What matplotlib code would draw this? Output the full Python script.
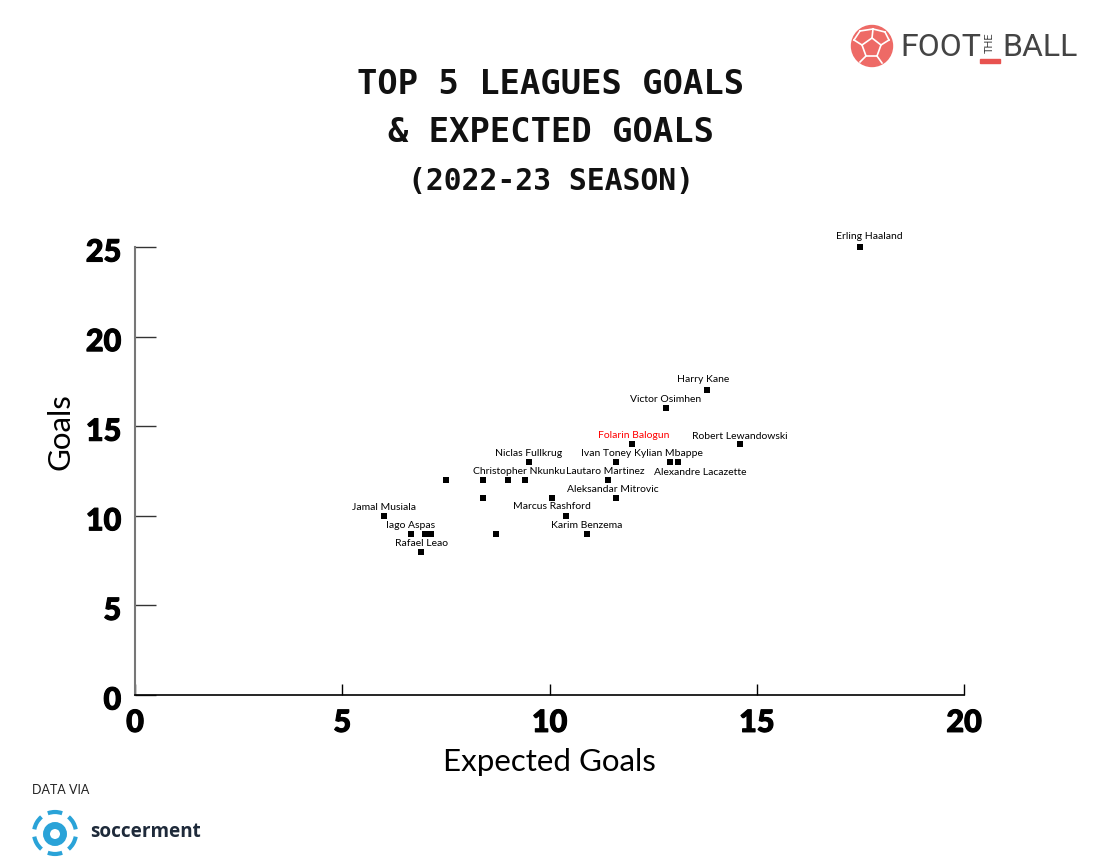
import matplotlib
matplotlib.use('Agg')
import matplotlib.pyplot as plt
import matplotlib.patheffects as pe
from matplotlib.patches import Arc, Circle, Polygon, Rectangle
from matplotlib.transforms import ScaledTranslation

players = ['Erling Haaland', 'Harry Kane', 'Victor Osimhen', 'Robert Lewandowski', 'Folarin Balogun',
           'Niclas Fullkrug', 'Ivan Toney', 'Kylian Mbappe', 'Alexandre Lacazette', 'Lautaro Martinez',
           'Christopher Nkunku', '', '', '', 'Aleksandar Mitrovic', '', '',
           'Jamal Musiala', 'Marcus Rashford', 'Iago Aspas', '', '', '', 'Karim Benzema', 'Rafael Leao']
xg = [17.5, 13.8, 12.8, 14.6, 12.0,
      9.5, 11.6, 12.9, 13.1, 11.4,
      9.4, 9.0, 8.4, 7.5, 11.6, 10.05, 8.4,
      6.0, 10.4, 6.65, 7.0, 7.15, 8.7, 10.9, 6.9]
goals = [25, 17, 16, 14, 14,
         13, 13, 13, 13, 12,
         12, 12, 12, 12, 11, 11, 11,
         10, 10, 9, 9, 9, 9, 9, 8]
# label nudges in pixels, from the default spot centred above the point
label_shift = {'Erling Haaland': (9, 1), 'Harry Kane': (-4, 1), 'Ivan Toney': (-10, -1),
               'Alexandre Lacazette': (22, -20), 'Kylian Mbappe': (-1, -1), 'Lautaro Martinez': (-2, -1),
               'Christopher Nkunku': (-6, -1), 'Aleksandar Mitrovic': (-3, -1), 'Marcus Rashford': (-14, 0),
               'Folarin Balogun': (1, -1), 'Robert Lewandowski': (0, -2), 'Niclas Fullkrug': (0, -1)}
x_ticks = [0, 5, 10, 15, 20]
y_ticks = [0, 5, 10, 15, 20, 25]

W, H = 1100, 867
fig = plt.figure(figsize=(11, 8.67), dpi=100)
ax = fig.add_axes([135 / W, 1 - 695 / H, 829 / W, 448 / H])

ax.scatter(xg, goals, marker='s', s=16, color='black', linewidths=0, zorder=3, clip_on=False)
for name, x, y in zip(players, xg, goals):
    if not name:
        continue
    dx, dy = label_shift.get(name, (0, -1))
    ax.annotate(name, (x, y), xytext=(dx * 0.72, (7 + dy) * 0.72), textcoords='offset points',
                ha='center', va='baseline', fontsize=7.5, family='Lato',
                color='red' if name == 'Folarin Balogun' else 'black')

ax.set_xlim(0, 20)
ax.set_ylim(0, 25)
ax.set_xticks(x_ticks)
ax.set_yticks(y_ticks)
ax.spines['top'].set_visible(False)
ax.spines['right'].set_visible(False)
ax.spines['left'].set_color('#777777')
ax.spines['left'].set_linewidth(1.5)
ax.spines['bottom'].set_linewidth(1.2)
ax.tick_params(axis='x', direction='in', length=8, width=1, pad=10)
ax.tick_params(axis='y', direction='in', length=15, width=1, pad=10, color='#333333')
heavy = [pe.withStroke(linewidth=0.8, foreground='black')]
for lab in ax.get_xticklabels() + ax.get_yticklabels():
    lab.set_family('Lato')
    lab.set_weight('black')
    lab.set_fontsize(22)
    lab.set_path_effects(heavy)
down = ScaledTranslation(0, -3 / 100, fig.dpi_scale_trans)
for lab in ax.get_yticklabels():
    lab.set_transform(lab.get_transform() + down)
ax.set_xlabel('Expected Goals', fontsize=22.5, family='Lato', labelpad=8)
ax.set_ylabel('Goals', fontsize=22.5, family='Lato', labelpad=8, y=0.587)

# title
for text, y, size in [('TOP 5 LEAGUES GOALS', 84, 24.3), ('& EXPECTED GOALS', 133, 24.3), ('(2022-23 SEASON)', 182, 21.4)]:
    fig.text(551 / W, 1 - y / H, text, ha='center', va='center', fontsize=size,
             family='DejaVu Sans Mono', weight='bold', color='#111111')

# overlay in pixel coordinates for the two logos
over = fig.add_axes([0, 0, 1, 1], facecolor='none')
over.set_xlim(0, W)
over.set_ylim(H, 0)
over.axis('off')

# football logo
coral = '#ee6a66'
over.add_patch(Circle((872, 46), 20.5, color=coral, zorder=2))
over.add_patch(Polygon([(872, 38), (881, 45), (877, 56), (866, 56), (862, 45)], closed=True,
                       facecolor=coral, edgecolor='white', linewidth=1.2, zorder=3))
for x0, y0, x1, y1 in [(872, 38, 873, 29), (881, 45, 889, 40), (877, 56, 882, 63), (866, 56, 860, 62),
                       (862, 45, 854, 40), (873, 29, 860, 31), (873, 29, 885, 32), (889, 40, 885, 32),
                       (854, 40, 860, 31)]:
    over.plot([x0, x1], [y0, y1], color='white', linewidth=1.2, zorder=3)
logo_font = ['Liberation Sans Narrow', 'Roboto']
over.text(900, 47, 'FOOT', fontsize=23, family=logo_font, color='#444444', va='center', ha='left')
over.text(990, 43, 'THE', fontsize=8, family=logo_font, color='#444444', va='center', ha='center', rotation=90)
over.add_patch(Rectangle((980, 59), 20, 4, color='#e8524f'))
over.text(1002, 47, 'BALL', fontsize=23, family=logo_font, color='#444444', va='center', ha='left')

# data credit
fig.text(32 / W, 1 - 790 / H, 'DATA VIA', fontsize=9, family='Lato', color='#222222', va='center')
blue = '#2aa3d8'
over.add_patch(Circle((55, 834), 8.5, facecolor='none', edgecolor=blue, linewidth=5))
for mid in [30, 90, 150, 210, 270, 330]:
    over.add_patch(Arc((55, 833), 42, 42, theta1=mid - 20, theta2=mid + 20, color=blue, linewidth=3))
over.text(90, 832, 'soccerment', fontsize=13.6, family='Open Sans', weight='bold', color='#1e2a3a', va='center')

fig.savefig('out.png', dpi=100, facecolor='white')
